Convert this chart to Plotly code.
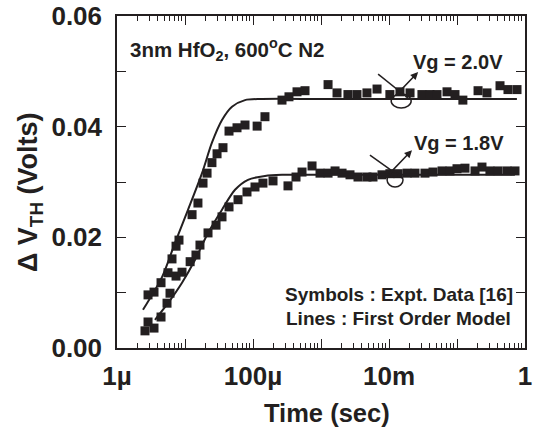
import plotly.graph_objects as go

# ---- data ----
upper_t = [2.86e-6, 3.50e-6, 4.44e-6, 5.62e-6, 6.44e-6, 7.38e-6, 8.16e-6, 1.27e-5, 1.55e-5,
           1.84e-5, 2.11e-5, 2.49e-5, 2.96e-5, 3.62e-5, 4.44e-5, 5.82e-5, 7.63e-5, 1.15e-4,
           1.50e-4, 2.67e-4, 3.38e-4, 4.44e-4, 5.82e-4, 1.27e-3, 1.72e-3, 2.49e-3, 3.38e-3,
           4.74e-3, 6.67e-3, 1.03e-2, 1.45e-2, 2.04e-2, 3.05e-2, 4.01e-2, 5.08e-2, 7.13e-2,
           9.35e-2, 0.122, 0.204, 0.276, 0.429, 0.562, 0.763]
upper_v = [0.0096, 0.0101, 0.0118, 0.0136, 0.0161, 0.0184, 0.0195, 0.0241, 0.0262,
           0.0298, 0.0316, 0.0335, 0.0351, 0.0362, 0.0392, 0.0398, 0.0403, 0.0401,
           0.0418, 0.0448, 0.0454, 0.0463, 0.0465, 0.0476, 0.0461, 0.0458, 0.0458,
           0.0461, 0.0468, 0.0458, 0.0463, 0.0461, 0.0458, 0.0458, 0.0458, 0.0463,
           0.0458, 0.0448, 0.0465, 0.0461, 0.0474, 0.0467, 0.0467]

lower_t = [2.58e-6, 2.86e-6, 3.50e-6, 4.44e-6, 5.44e-6, 6.02e-6, 7.38e-6, 9.04e-6, 1.19e-5,
           1.45e-5, 1.66e-5, 2.18e-5, 2.86e-5, 3.50e-5, 4.44e-5, 6.02e-5, 8.16e-5, 1.07e-4,
           1.40e-4, 1.97e-4, 3.27e-4, 4.29e-4, 5.26e-4, 7.38e-4, 9.67e-4, 1.27e-3, 1.61e-3,
           2.04e-3, 2.67e-3, 3.50e-3, 4.74e-3, 5.82e-3, 7.89e-3, 1.03e-2, 1.36e-2, 1.84e-2,
           2.41e-2, 3.38e-2, 4.44e-2, 6.02e-2, 7.89e-2, 0.100, 0.131, 0.184, 0.233, 0.305,
           0.401, 0.544, 0.713]
lower_v = [0.0031, 0.0047, 0.0036, 0.0056, 0.0081, 0.0099, 0.0130, 0.0137, 0.0156,
           0.0168, 0.0186, 0.0208, 0.0222, 0.0237, 0.0255, 0.0268, 0.0282, 0.0291,
           0.0298, 0.0302, 0.0293, 0.0309, 0.0318, 0.0329, 0.0316, 0.0316, 0.0320,
           0.0316, 0.0313, 0.0309, 0.0309, 0.0309, 0.0313, 0.0315, 0.0315, 0.0316,
           0.0316, 0.0316, 0.0318, 0.0320, 0.0320, 0.0324, 0.0325, 0.0320, 0.0327, 0.0320,
           0.0320, 0.0320, 0.0320]

upper_line_t = [2.41e-6, 4.59e-6, 7.13e-6, 1.11e-5, 1.78e-5, 2.49e-5, 3.50e-5, 4.91e-5,
                7.63e-5, 1.36e-4, 1e-3, 1e-2, 0.1, 0.76]
upper_line_v = [0.0069, 0.0128, 0.0190, 0.0250, 0.0316, 0.0371, 0.0412, 0.0436,
                0.0448, 0.0450, 0.0450, 0.0450, 0.0450, 0.0450]

lower_line_t = [3.62e-6, 5.62e-6, 9.04e-6, 1.40e-5, 2.18e-5, 3.50e-5, 5.44e-5, 8.44e-5,
                1.50e-4, 2.67e-4, 1e-3, 1e-2, 0.1, 0.71]
lower_line_v = [0.0051, 0.0081, 0.0118, 0.0159, 0.0208, 0.0250, 0.0286, 0.0304,
                0.0311, 0.0313, 0.0313, 0.0313, 0.0313, 0.0313]

x_tickvals = [1e-6, 1e-5, 1e-4, 1e-3, 1e-2, 1e-1, 1]
x_ticktext = ["1\u00b5", "", "100\u00b5", "", "10m", "", "1"]
y_tickvals = [0.0, 0.01, 0.02, 0.03, 0.04, 0.05, 0.06]
y_ticktext = ["0.00", "", "0.02", "", "0.04", "", "0.06"]

INK = "#231f20"
FONT = "Liberation Sans, Arial, sans-serif"

fig = go.Figure()
marker = dict(symbol="square", size=9, color=INK, line=dict(width=0))
fig.add_trace(go.Scatter(x=upper_t, y=upper_v, mode="markers", marker=marker, showlegend=False))
fig.add_trace(go.Scatter(x=lower_t, y=lower_v, mode="markers", marker=marker, showlegend=False))
fig.add_trace(go.Scatter(x=upper_line_t, y=upper_line_v, mode="lines",
                         line=dict(color=INK, width=2, shape="spline", smoothing=0.8), showlegend=False))
fig.add_trace(go.Scatter(x=lower_line_t, y=lower_line_v, mode="lines",
                         line=dict(color=INK, width=2, shape="spline", smoothing=0.8), showlegend=False))

axis_common = dict(showline=True, linecolor=INK, linewidth=1.5, mirror="ticks",
                   ticks="inside", tickcolor=INK, tickwidth=1.2, showgrid=False, zeroline=False,
                   automargin=False,
                   tickfont=dict(family=FONT, size=26, color=INK, weight="bold"))

fig.update_xaxes(type="log", range=[-6, 0], tickmode="array", tickvals=x_tickvals,
                 ticktext=x_ticktext, ticklen=9, ticklabelstandoff=4,
                 minor=dict(ticks="inside", ticklen=5, dtick="D1", tickcolor=INK, tickwidth=1, showgrid=False),
                 **axis_common)
fig.update_yaxes(range=[0, 0.06], tickmode="array", tickvals=y_tickvals, ticktext=y_ticktext,
                 ticklen=9, ticklabelstandoff=8,
                 **axis_common)

def ann(text, x, y, xanchor="center", size=18, angle=0):
    fig.add_annotation(text=text, x=x, y=y, xref="paper", yref="paper", showarrow=False,
                       xanchor=xanchor, yanchor="middle", textangle=angle,
                       font=dict(family=FONT, size=size, color=INK, weight="bold"))

# axis titles
ann("Time (sec)", 0.5147, -0.197, size=25.5)
ann("\u0394 V<sub>TH</sub> (Volts)", -0.213, 0.47, size=27, angle=-90)

ann("3nm HfO<sub>2</sub>, 600<sup>o</sup>C N2", 0.027, 0.898, xanchor="left", size=20.5)
ann("Vg = 2.0V", 0.836, 0.861, size=20)
ann("Vg = 1.8V", 0.838, 0.617, size=20)
ann("Symbols : Expt. Data [16]", 0.9755, 0.160, xanchor="right", size=19)
ann("Lines : First Order Model", 0.971, 0.090, xanchor="right", size=19)

# pointer loops
for (x0, y0, x1, y1) in [(0.640, 0.825, 0.713, 0.753), (0.620, 0.581, 0.699, 0.512)]:
    fig.add_shape(type="line", xref="paper", yref="paper", x0=x0, y0=y0, x1=x1, y1=y1,
                  line=dict(color=INK, width=1.5))
for (x0, y0, x1, y1) in [(0.672, 0.723, 0.721, 0.765), (0.662, 0.485, 0.701, 0.527)]:
    fig.add_shape(type="circle", xref="paper", yref="paper", x0=x0, y0=y0, x1=x1, y1=y1,
                  line=dict(color=INK, width=1.5))
for (x, y) in [(0.738, 0.831), (0.723, 0.596)]:
    fig.add_annotation(x=x, y=y, xref="paper", yref="paper", text="", showarrow=True,
                       ax=-24, ay=25, arrowhead=2, arrowsize=1, arrowwidth=1.5, arrowcolor=INK)

fig.update_layout(width=536, height=429, margin=dict(l=117, r=11, t=16, b=81, autoexpand=False),
                  paper_bgcolor="white", plot_bgcolor="white")

fig.write_html("out.html", config={"displayModeBar": False},
               post_script="document.body.style.margin='0';document.body.style.overflow='hidden';")
